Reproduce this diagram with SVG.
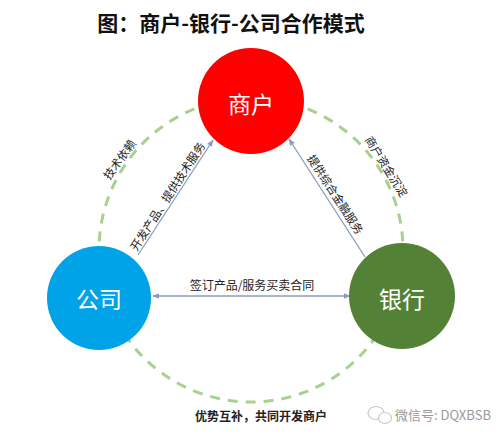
<svg xmlns="http://www.w3.org/2000/svg" width="500" height="437" viewBox="0 0 500 437">
<style>
.cjk{font-family:"Noto Sans CJK SC","Noto Sans",sans-serif;}
.title{font-size:21px;font-weight:bold;fill:#111;}
.node-label{font-size:23px;fill:#fff;text-anchor:middle;dominant-baseline:central;}
.lbl{font-size:11.5px;fill:#222;text-anchor:middle;dominant-baseline:central;}
.arrow{stroke:#8a9cbc;stroke-width:1.3;fill:none;}
.ring{stroke:#a9d08e;stroke-width:3;fill:none;stroke-dasharray:10 8;}
</style>
<defs>
<marker id="ah" viewBox="0 0 10 10" refX="9" refY="5" markerWidth="7" markerHeight="7" orient="auto-start-reverse" markerUnits="userSpaceOnUse">
<path d="M0,1 L10,5 L0,9 Z" fill="#8a9cbc"/>
</marker>
</defs>
<rect width="500" height="437" fill="#fff"/>
<text class="cjk title" x="231" y="31" text-anchor="middle">图：商户-银行-公司合作模式</text>
<g id="connectors">
<circle class="ring" cx="251" cy="250" r="152"/>
<line class="arrow" x1="138" y1="255" x2="213" y2="140" marker-end="url(#ah)"/>
<line class="arrow" x1="365" y1="257" x2="289" y2="139" marker-end="url(#ah)"/>
<line class="arrow" x1="153" y1="296" x2="350" y2="296" marker-start="url(#ah)" marker-end="url(#ah)"/>
</g>
<g id="labels">
<text class="cjk lbl" transform="translate(119,159) rotate(-54)">技术依赖</text>
<text class="cjk lbl" transform="translate(167,196) rotate(-57)">开发产品、提供技术服务</text>
<text class="cjk lbl" transform="translate(336,194) rotate(57)">提供综合金融服务</text>
<text class="cjk lbl" transform="translate(387,166) rotate(58)">商户资金沉淀</text>
<text class="cjk lbl" x="252" y="284" style="font-size:12px">签订产品/服务买卖合同</text>
<text class="cjk lbl" x="261" y="415" style="font-size:12px;font-weight:bold">优势互补，共同开发商户</text>
</g>
<g id="merchant">
<circle cx="251" cy="101" r="53" fill="#fe0000"/>
<text class="cjk node-label" x="251" y="103">商户</text>
</g>
<g id="company">
<circle cx="99" cy="298" r="52" fill="#00a2e8"/>
<text class="cjk node-label" x="99" y="298">公司</text>
</g>
<g id="bank">
<circle cx="402" cy="296" r="53" fill="#538135"/>
<text class="cjk node-label" x="402" y="298">银行</text>
</g>
<g id="watermark">
<ellipse cx="376" cy="413" rx="8" ry="6.5" fill="none" stroke="#c8c8c8" stroke-width="1.2"/>
<ellipse cx="385" cy="418" rx="6.5" ry="5.5" fill="#fff" stroke="#c8c8c8" stroke-width="1.2"/>
<text class="cjk" x="395" y="420" font-size="13" fill="#9a9a9a">微信号: DQXBSB</text>
</g>
</svg>
